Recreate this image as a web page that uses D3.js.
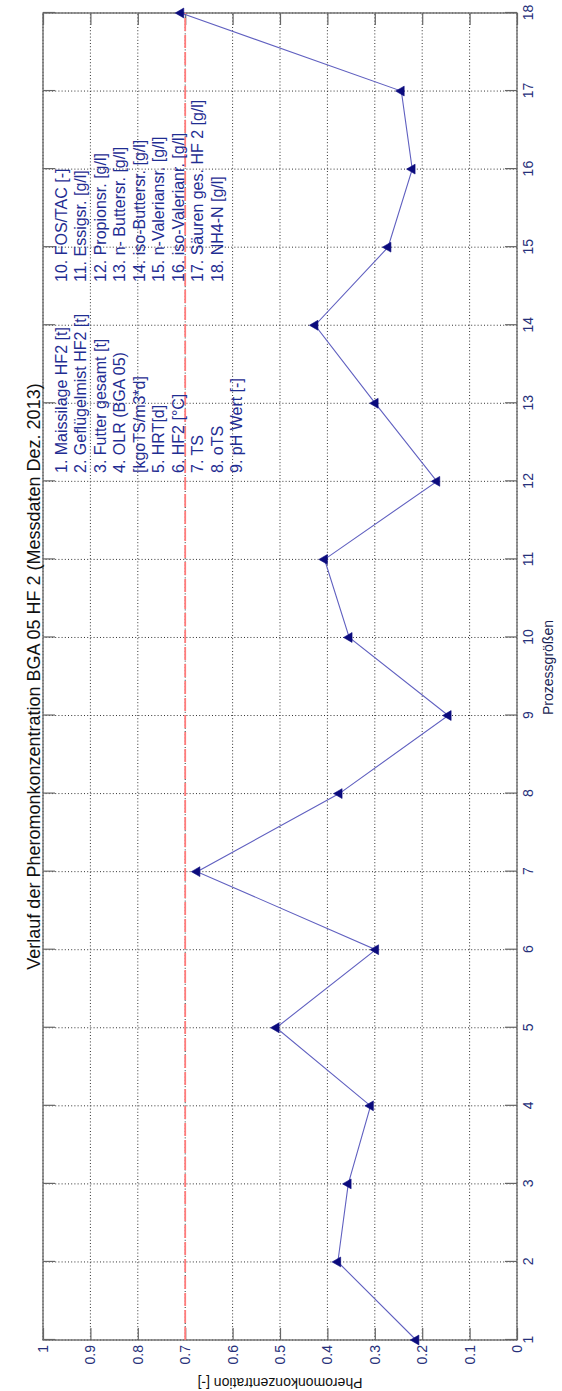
<!DOCTYPE html>
<html><head><meta charset="utf-8">
<script src="https://cdn.jsdelivr.net/npm/d3@7"></script>
<style>
body{margin:0;background:#fff}
svg{display:block}
text{font-family:"Liberation Sans",Arial,sans-serif}
</style>
</head><body>
<svg id="c" width="562" height="1391"></svg>
<script>
// ---- data ----
const categories = [1,2,3,4,5,6,7,8,9,10,11,12,13,14,15,16,17,18];
const values = [0.213,0.378,0.356,0.309,0.508,0.298,0.675,0.375,0.145,0.354,0.406,0.169,0.299,0.426,0.272,0.221,0.244,0.709];
const yTickValues = [0,0.1,0.2,0.3,0.4,0.5,0.6,0.7,0.8,0.9,1];
const yTickLabels = ["0","0.1","0.2","0.3","0.4","0.5","0.6","0.7","0.8","0.9","1"];
const threshold = 0.7;
const legendCol1 = ["1. Maissilage HF2 [t]","2. Geflügelmist HF2 [t]","3. Futter gesamt [t]","4. OLR (BGA 05)","[kgoTS/m3*d]","5. HRT[d]","6. HF2 [°C]","7. TS","8. oTS","9. pH Wert [-]"];
const legendCol2 = ["10. FOS/TAC [-]","11. Essigsr. [g/l]","12. Propionsr. [g/l]","13. n- Buttersr. [g/l]","14. iso-Buttersr. [g/l]","15. n-Valeriansr. [g/l]","16. iso-Valerianr. [g/l]","17. Säuren ges. HF 2 [g/l]","18. NH4-N [g/l]"];
const titleText = "Verlauf der Pheromonkonzentration BGA 05 HF 2 (Messdaten Dez. 2013)";
const xLabel = "Prozessgrößen";
const yLabel = "Pheromonkonzentration [-]";

// ---- layout (drawn unrotated, then rotated -90deg) ----
const svg = d3.select("#c");
const g = svg.append("g").attr("transform","translate(0,1391) rotate(-90)");
const x = d3.scaleLinear().domain([1,18]).range([51,1378]);
const y = d3.scaleLinear().domain([0,1]).range([517,43]);
const x0 = x.range()[0], x1 = x.range()[1], y0 = y.range()[0], y1 = y.range()[1];

// grid
const grid = g.append("g").attr("stroke","#333").attr("stroke-width",1).attr("stroke-dasharray","1,2.2");
grid.selectAll("line.v").data(categories).join("line").attr("class","v")
  .attr("x1",d=>x(d)).attr("x2",d=>x(d)).attr("y1",y0).attr("y2",y1);
grid.selectAll("line.h").data(yTickValues).join("line").attr("class","h")
  .attr("x1",x0).attr("x2",x1).attr("y1",d=>y(d)).attr("y2",d=>y(d));

// axes
const tickColor = "#666", labelColor = "#26307a";
function styleAxis(sel){
  sel.select(".domain").remove();
  sel.selectAll(".tick line").attr("stroke",tickColor).attr("stroke-width",1.2);
  sel.selectAll(".tick text").attr("fill",labelColor).attr("font-size",14).attr("font-family","'Liberation Sans',Arial,sans-serif");
}
g.append("g").attr("transform",`translate(0,${y0})`)
  .call(d3.axisBottom(x).tickValues(categories).tickFormat(d3.format("d")).tickSize(-12).tickPadding(6)).call(styleAxis);
g.append("g").attr("transform",`translate(0,${y1})`)
  .call(d3.axisTop(x).tickValues(categories).tickFormat("").tickSize(-12)).call(styleAxis);
g.append("g").attr("transform",`translate(${x0},0)`)
  .call(d3.axisLeft(y).tickValues(yTickValues).tickFormat((d,i)=>yTickLabels[i]).tickSize(-12).tickPadding(5)).call(styleAxis);
g.append("g").attr("transform",`translate(${x1},0)`)
  .call(d3.axisRight(y).tickValues(yTickValues).tickFormat("").tickSize(-12)).call(styleAxis);

// frame
g.append("rect").attr("x",x0).attr("y",y1).attr("width",x1-x0).attr("height",y0-y1)
  .attr("fill","none").attr("stroke","#666").attr("stroke-width",1.3);

// threshold line
g.append("line").attr("x1",x0).attr("x2",x1).attr("y1",y(threshold)).attr("y2",y(threshold))
  .attr("stroke","#ff7b7b").attr("stroke-width",1.8).attr("stroke-dasharray","13,4");

// data line
const pts = categories.map((c,i)=>[c,values[i]]);
g.append("path").datum(pts)
  .attr("d",d3.line().x(d=>x(d[0])).y(d=>y(d[1])))
  .attr("fill","none").attr("stroke","#6060c0").attr("stroke-width",1.1);
g.selectAll("path.m").data(pts).join("path").attr("class","m")
  .attr("transform",d=>`translate(${x(d[0])},${y(d[1])})`)
  .attr("d",d3.symbol(d3.symbolTriangle,42)())
  .attr("fill","#0b0b7d").attr("stroke","#0b0b7d").attr("stroke-width",0.6);

// legend text
const legColor = "#1f2d92";
g.selectAll("text.l1").data(legendCol1).join("text").attr("class","l1")
  .attr("x",1391-473).attr("y",(d,i)=>66.7+19.5*i)
  .attr("font-size",16).attr("fill",legColor).text(d=>d);
g.selectAll("text.l2").data(legendCol2).join("text").attr("class","l2")
  .attr("x",1391-282).attr("y",(d,i)=>66.7+19.5*i)
  .attr("font-size",16).attr("fill",legColor).text(d=>d);

// title & axis labels
g.append("text").attr("x",(x0+x1)/2).attr("y",39.5).attr("text-anchor","middle")
  .attr("font-size",18).attr("fill","#111").text(titleText);
g.append("text").attr("x",(x0+x1)/2+9).attr("y",553).attr("text-anchor","middle")
  .attr("font-size",14).attr("fill","#1a1f55").text(xLabel);
g.append("text").attr("transform",`translate(13,${(y0+y1)/2}) rotate(-90)`).attr("text-anchor","middle")
  .attr("font-size",14).attr("fill","#111").text(yLabel);
</script>
</body></html>
